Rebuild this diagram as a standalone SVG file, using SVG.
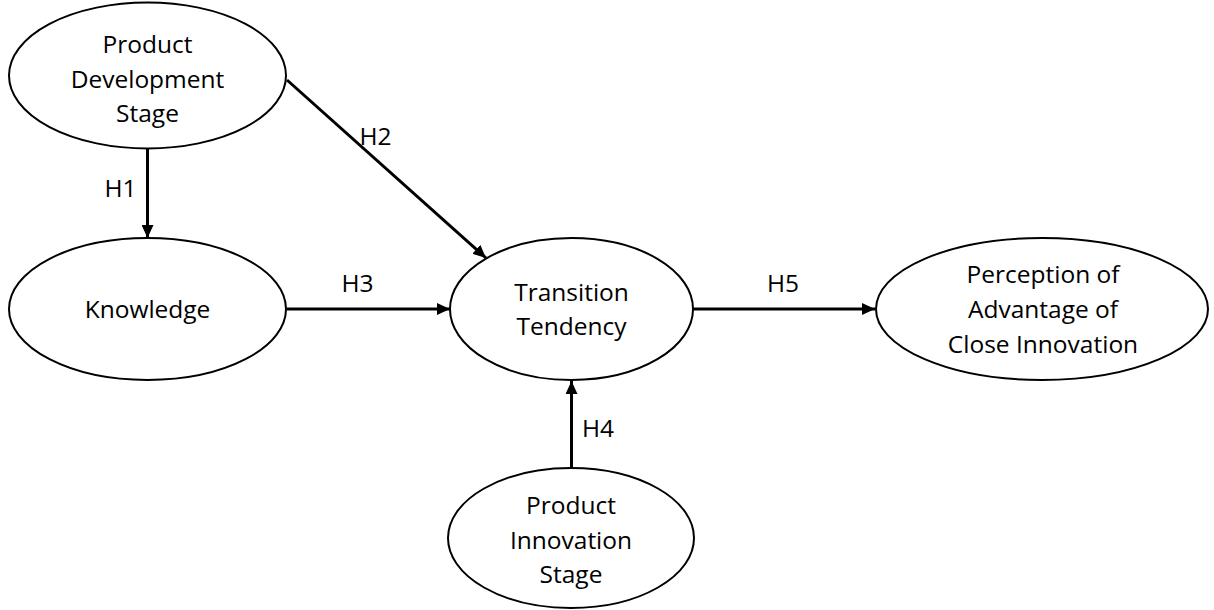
<svg xmlns="http://www.w3.org/2000/svg" width="1214" height="610" viewBox="0 0 1214 610">
<style>
.node{fill:#fff;stroke:#000;stroke-width:2}
.lbl{font-family:"Open Sans","Liberation Sans",sans-serif;font-size:24.5px;fill:#000;text-anchor:middle}
.edge{stroke:#000;stroke-width:3;fill:none;marker-end:url(#ah)}
</style>
<defs>
<marker id="ah" markerWidth="13" markerHeight="12" refX="13" refY="6" orient="auto" markerUnits="userSpaceOnUse">
<path d="M0,0 L13,6 L0,12 z" fill="#000"/>
</marker>
</defs>
<rect width="1214" height="610" fill="#fff"/>
<g id="connectors">
<line class="edge" x1="147.5" y1="148" x2="147.5" y2="238"/>
<line class="edge" x1="287" y1="80" x2="486" y2="258"/>
<line class="edge" x1="287" y1="309" x2="450" y2="309"/>
<line class="edge" x1="571.5" y1="468" x2="571.5" y2="381"/>
<line class="edge" x1="693" y1="309" x2="875" y2="309"/>
<text class="lbl" x="120.5" y="197">H1</text>
<text class="lbl" x="375.5" y="145">H2</text>
<text class="lbl" x="357.5" y="292">H3</text>
<text class="lbl" x="598" y="437">H4</text>
<text class="lbl" x="783" y="292">H5</text>
</g>
<g id="product-development-stage">
<ellipse class="node" cx="147.5" cy="75.5" rx="138.5" ry="73"/>
<text class="lbl" x="147.5" y="53">Product</text>
<text class="lbl" x="147.5" y="88">Development</text>
<text class="lbl" x="147.5" y="122">Stage</text>
</g>
<g id="knowledge">
<ellipse class="node" cx="147.5" cy="309" rx="138.5" ry="71"/>
<text class="lbl" x="147.5" y="318">Knowledge</text>
</g>
<g id="transition-tendency">
<ellipse class="node" cx="571.5" cy="309" rx="121.5" ry="71"/>
<text class="lbl" x="571.5" y="301">Transition</text>
<text class="lbl" x="571.5" y="335">Tendency</text>
</g>
<g id="product-innovation-stage">
<ellipse class="node" cx="571" cy="538" rx="123" ry="70"/>
<text class="lbl" x="571" y="514">Product</text>
<text class="lbl" x="571" y="549">Innovation</text>
<text class="lbl" x="571" y="583">Stage</text>
</g>
<g id="perception">
<ellipse class="node" cx="1042" cy="309" rx="166" ry="71"/>
<text class="lbl" x="1043" y="283">Perception of</text>
<text class="lbl" x="1043" y="318">Advantage of</text>
<text class="lbl" x="1043" y="353">Close Innovation</text>
</g>
</svg>
